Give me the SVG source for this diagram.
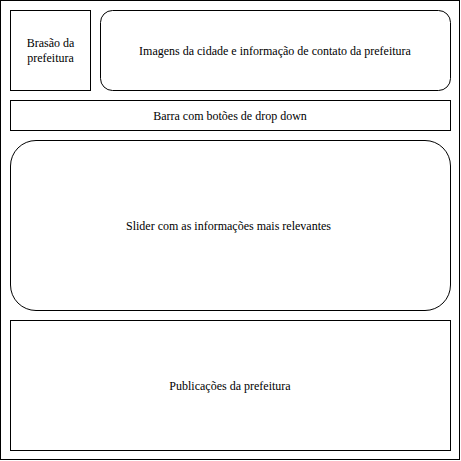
<svg xmlns="http://www.w3.org/2000/svg" width="461" height="461" viewBox="0 0 461 461">
<style>
.b{fill:#fff;stroke:#000;stroke-width:1}
.t{font-family:"Liberation Serif",serif;font-size:12px;fill:#000;text-anchor:middle;dominant-baseline:central}
</style>
<rect x="0" y="0" width="461" height="461" fill="#fff"/>
<g id="page"><rect class="b" x="0.5" y="0.5" width="459" height="459"/></g>
<g id="brasao"><rect class="b" x="10.5" y="10.5" width="80" height="80"/><text class="t" x="50.5" y="43">Brasão da</text><text class="t" x="50.5" y="58">prefeitura</text></g>
<g id="imagens"><rect class="b" x="100.5" y="10.5" width="350" height="80" rx="12" ry="12"/><text class="t" x="275" y="50.5">Imagens da cidade e informação de contato da prefeitura</text></g>
<g id="barra"><rect class="b" x="10.5" y="100.5" width="440" height="30"/><text class="t" x="230" y="115.5">Barra com botões de drop down</text></g>
<g id="slider"><rect class="b" x="10.5" y="140.5" width="440" height="170" rx="25.5" ry="25.5"/><text class="t" x="228.5" y="225.5">Slider com as informações mais relevantes</text></g>
<g id="publicacoes"><rect class="b" x="10.5" y="320.5" width="440" height="130"/><text class="t" x="230" y="385.5">Publicações da prefeitura</text></g>
<g id="connectors"/>
</svg>
